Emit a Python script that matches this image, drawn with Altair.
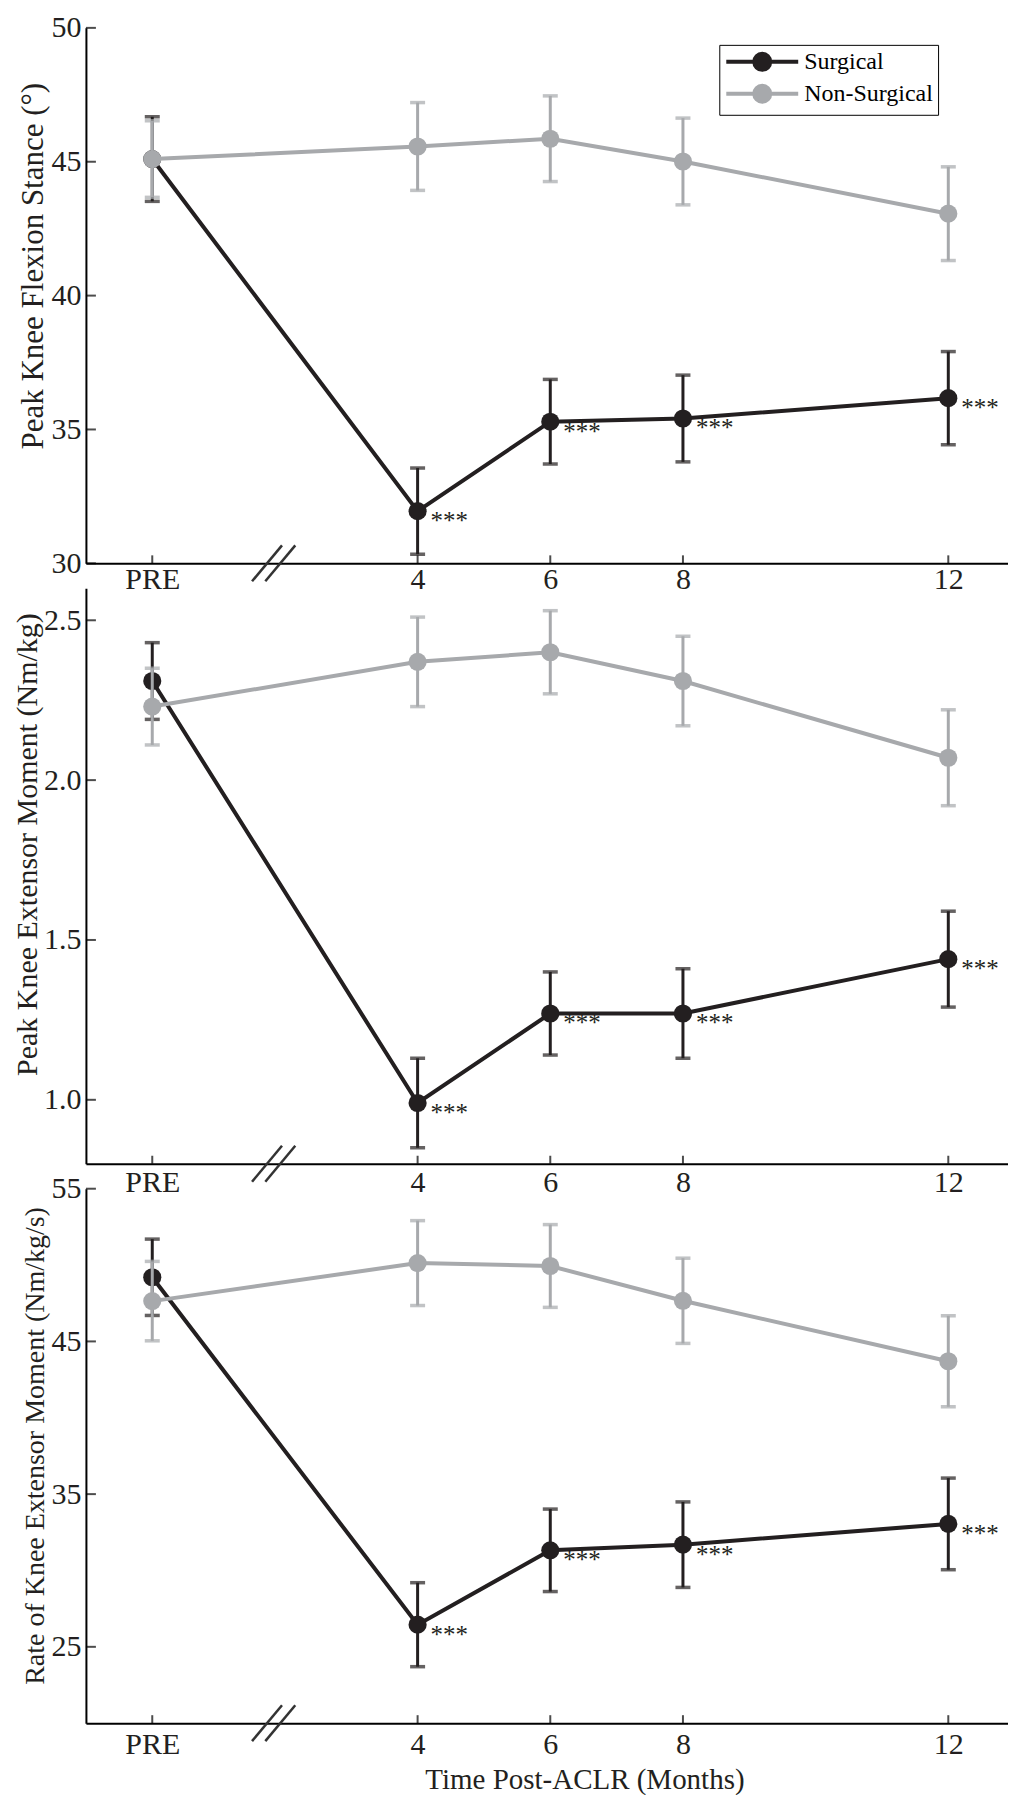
import altair as alt
import pandas as pd

# ---------------- data ----------------
months = [0, 4, 6, 8, 12]
xtick_values = [0, 4, 6, 8, 12]
xtick_labels = ["PRE", "4", "6", "8", "12"]
x_domain = [-1, 12.9]
break_x = [1.73, 1.93]
series_names = ["Surgical", "Non-Surgical"]
series_colors = ["#231f20", "#a7a9ac"]
sig_labels = ["", "***", "***", "***", "***"]
x_title = "Time Post-ACLR (Months)"

# Panel 1
p1_title = "Peak Knee Flexion Stance (°)"
p1_domain = [30, 50]
p1_ticks = [30, 35, 40, 45, 50]
p1_surg_mean = [45.1, 31.95, 35.29, 35.41, 36.17]
p1_surg_err = [1.58, 1.61, 1.58, 1.62, 1.74]
p1_non_mean = [45.1, 45.57, 45.86, 45.01, 43.06]
p1_non_err = [1.43, 1.64, 1.60, 1.62, 1.75]

# Panel 2
p2_title = "Peak Knee Extensor Moment (Nm/kg)"
p2_domain = [0.8, 2.6]
p2_ticks = [1.0, 1.5, 2.0, 2.5]
p2_surg_mean = [2.31, 0.99, 1.27, 1.27, 1.44]
p2_surg_err = [0.12, 0.14, 0.13, 0.14, 0.15]
p2_non_mean = [2.23, 2.37, 2.40, 2.31, 2.07]
p2_non_err = [0.12, 0.14, 0.13, 0.14, 0.15]

# Panel 3
p3_title = "Rate of Knee Extensor Moment (Nm/kg/s)"
p3_domain = [20, 55]
p3_ticks = [25, 35, 45, 55]
p3_surg_mean = [49.2, 26.45, 31.32, 31.69, 33.05]
p3_surg_err = [2.5, 2.75, 2.7, 2.8, 3.0]
p3_non_mean = [47.64, 50.13, 49.94, 47.66, 43.7]
p3_non_err = [2.6, 2.78, 2.71, 2.79, 2.98]

SERIF = "Liberation Serif, Times New Roman, serif"
WIDTH = 923

label_expr = ""
for v, lab in zip(xtick_values, xtick_labels):
    label_expr += f"datum.value == {v} ? '{lab}' : "
label_expr += "datum.label"

legend_path = (
    "M-1,0L6.2,0"
    "M3.4,0A0.8,0.8,0,1,1,1.8,0A0.8,0.8,0,1,1,3.4,0"
    "M3.05,0A0.45,0.45,0,1,1,2.15,0A0.45,0.45,0,1,1,3.05,0"
    "M2.75,0A0.15,0.15,0,1,1,2.45,0A0.15,0.15,0,1,1,2.75,0"
)


def make_panel(title, domain, ticks, fmt, surg_mean, surg_err, non_mean, non_err,
               height, show_legend, show_xtitle, xlabel_pad, title_size, title_y):
    rows = []
    for name, means, errs in [("Surgical", surg_mean, surg_err),
                              ("Non-Surgical", non_mean, non_err)]:
        for i, m in enumerate(months):
            rows.append({
                "month": m, "series": name, "mean": means[i],
                "lo": means[i] - errs[i], "hi": means[i] + errs[i],
                "sig": sig_labels[i] if name == "Surgical" else "",
            })
    df = pd.DataFrame(rows)

    x_axis = alt.Axis(values=xtick_values, labelExpr=label_expr, ticks=False,
                      title=x_title if show_xtitle else None,
                      labelPadding=xlabel_pad, domainColor="black", domainWidth=2,
                      grid=False, labelFontSize=30, labelFont=SERIF,
                      labelColor="#231f20", titleFont=SERIF, titleFontSize=29,
                      titleFontWeight="normal", titleColor="#231f20",
                      titlePadding=6, titleX=499)
    y_axis = alt.Axis(values=ticks, format=fmt, ticks=False, title=title,
                      labelPadding=5, domainColor="black", domainWidth=2,
                      grid=False, labelFontSize=30, labelFont=SERIF,
                      labelColor="#231f20", titleFont=SERIF,
                      titleFontSize=title_size, titleFontWeight="normal",
                      titleColor="#231f20", titlePadding=1, titleY=title_y)
    xs = alt.Scale(domain=x_domain, nice=False, zero=False)
    ys = alt.Scale(domain=domain, nice=False, zero=False)

    def X(f):
        return alt.X(f"{f}:Q", scale=xs, axis=x_axis)

    def Y(f):
        return alt.Y(f"{f}:Q", scale=ys, axis=y_axis)

    base = alt.Chart(df)
    layers = []
    for name, col in zip(series_names, series_colors):
        sub = base.transform_filter(alt.datum.series == name)
        layers.append(sub.mark_rule(strokeWidth=3).encode(
            x=X("month"), y=Y("lo"), y2="hi", color=alt.value(col)))
        layers.append(sub.mark_tick(orient="horizontal", size=15, thickness=3.5).encode(
            x=X("month"), y=Y("lo"), color=alt.value(col)))
        layers.append(sub.mark_tick(orient="horizontal", size=15, thickness=3.5).encode(
            x=X("month"), y=Y("hi"), color=alt.value(col)))
        if show_legend:
            leg = alt.Legend(title=None, orient="none", legendX=634, legendY=17,
                             symbolType=legend_path, symbolSize=400,
                             symbolStrokeWidth=4, labelFont=SERIF,
                             labelFontSize=24, labelColor="black",
                             labelOffset=56, strokeColor="black",
                             padding=5, rowPadding=0, fillColor="white")
        else:
            leg = None
        layers.append(sub.mark_line(strokeWidth=4).encode(
            x=X("month"), y=Y("mean"),
            color=alt.Color("series:N",
                            scale=alt.Scale(domain=series_names, range=series_colors),
                            legend=leg)))
        layers.append(sub.mark_circle(size=330, opacity=1).encode(
            x=X("month"), y=Y("mean"), color=alt.value(col)))

    layers.append(base.transform_filter(alt.datum.sig != "").mark_text(
        align="left", baseline="alphabetic", dx=13, dy=18, fontSize=25,
        font=SERIF, color="#231f20").encode(x=X("month"), y=Y("mean"), text="sig:N"))

    ytick_df = pd.DataFrame({"v": ticks, "x0": [x_domain[0]] * len(ticks)})
    layers.append(alt.Chart(ytick_df).mark_tick(
        orient="horizontal", size=10, thickness=2, xOffset=5, color="black").encode(
        x=X("x0"), y=Y("v")))
    xtick_df = pd.DataFrame({"v": xtick_values, "y0": [domain[0]] * len(xtick_values)})
    layers.append(alt.Chart(xtick_df).mark_tick(
        orient="vertical", size=8, thickness=2, yOffset=-4, color="black").encode(
        x=X("v"), y=Y("y0")))
    brk_df = pd.DataFrame({"bx": break_x, "y0": [domain[0]] * len(break_x)})
    layers.append(alt.Chart(brk_df).mark_rule(
        strokeWidth=2.5, color="#333333", xOffset=-15, x2Offset=15,
        yOffset=18, y2Offset=-18).encode(
        x=X("bx"), x2="bx:Q", y=Y("y0"), y2="y0:Q"))

    return alt.layer(*layers).properties(width=WIDTH, height=height)


p1 = make_panel(p1_title, p1_domain, p1_ticks, "d", p1_surg_mean, p1_surg_err,
                p1_non_mean, p1_non_err, 536, True, False, 1, 31, 238)
p2 = make_panel(p2_title, p2_domain, p2_ticks, ".1f", p2_surg_mean, p2_surg_err,
                p2_non_mean, p2_non_err, 576, False, False, 4, 30, 256)
p3 = make_panel(p3_title, p3_domain, p3_ticks, "d", p3_surg_mean, p3_surg_err,
                p3_non_mean, p3_non_err, 535, False, True, 6, 28, 257)

chart = alt.vconcat(p1, p2, p3, spacing=25, bounds="flush").resolve_scale(
    color="independent").properties(
    padding={"top": 4, "left": 4, "right": 0, "bottom": 0}).configure_view(stroke=None)

chart.save("out.html", embed_options={"renderer": "svg", "actions": False})
